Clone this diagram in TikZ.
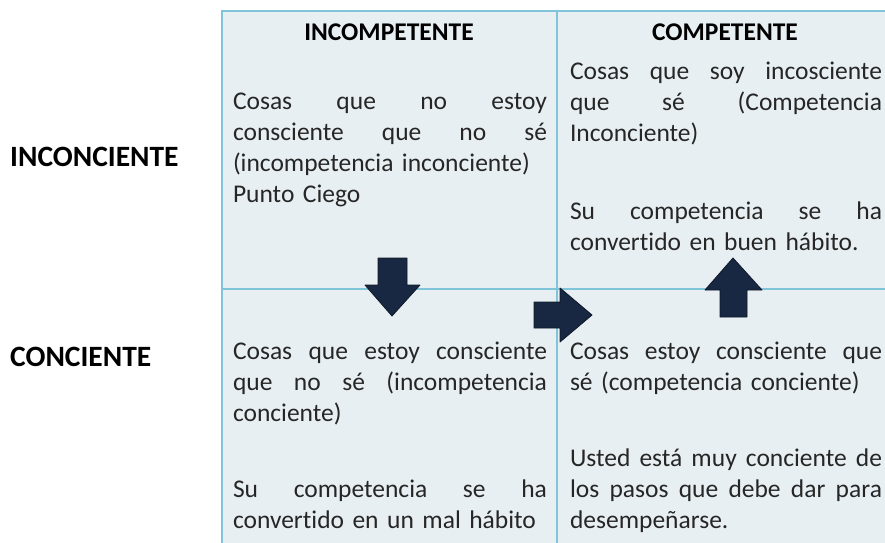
\documentclass[tikz,border=0pt]{standalone}
\usepackage{fontspec}
\setmainfont{Carlito}[Ligatures=NoCommon]
\definecolor{cellfill}{HTML}{E8EFF3}
\definecolor{gridc}{HTML}{7FC4D9}
\definecolor{arrowc}{HTML}{182842}
\newcommand{\jla}[1]{\leavevmode\hbox to 314pt{\spaceskip=0.25em plus 1fil\relax #1}}
\newcommand{\jlb}[1]{\leavevmode\hbox to 312pt{\spaceskip=0.25em plus 1fil\relax #1}}
\begin{document}
\begin{tikzpicture}[x=1pt,y=-1pt,
  body/.style={anchor=base west, inner sep=0pt, outer sep=0pt, align=left, text width=#1, font=\fontsize{25.5}{31}\selectfont, text=black!85},
  body/.default=314pt,
  head/.style={anchor=base, inner sep=0pt, font=\fontsize{25.5}{31}\selectfont\bfseries},
  rowlab/.style={anchor=base west, inner sep=0pt, font=\fontsize{29.5}{35}\selectfont\bfseries},
  grid/.style={draw=gridc, line width=1.5pt},
  bigarrow/.style={fill=arrowc, draw=arrowc!60!black, line width=0.8pt, line join=round}]
\useasboundingbox (0,0) rectangle (885,542);
% table background and grid
\fill[cellfill] (222,11) rectangle (886,543);
\draw[grid, line width=2pt] (222,543) -- (222,11) -- (886,11);
\draw[grid] (557,11) -- (557,543);
\draw[grid] (222,289) -- (886,289);
% headers
\node[head] (hinc) at (389,40) {INCOMPETENTE};
\node[head] (hcom) at (725,40) {COMPETENTE};
% row labels
\node[rowlab] (rinc) at (10,166) {INCONCIENTE};
\node[rowlab] (rcon) at (10,366) {CONCIENTE};
% cells
\node[body] (tl) at (233,109) {\jla{Cosas que no estoy}\\
\jla{consciente que no sé}\\
(incompetencia inconciente)\\
Punto Ciego};
\node[body=312pt] (tr1) at (570,79) {\jlb{Cosas que soy incosciente}\\
\jlb{que sé (Competencia}\\
Inconciente)};
\node[body=312pt] (tr2) at (570,219) {\jlb{Su competencia se ha}\\
convertido en buen hábito.};
\node[body] (bl1) at (233,359) {\jla{Cosas que estoy consciente}\\
\jla{que no sé (incompetencia}\\
conciente)};
\node[body] (bl2) at (233,497) {\jla{Su competencia se ha}\\
convertido en un mal hábito};
\node[body=312pt] (br1) at (570,359) {\jlb{Cosas estoy consciente que}\\
sé (competencia conciente)};
\node[body=312pt] (br2) at (570,466) {\jlb{Usted está muy conciente de}\\
\jlb{los pasos que debe dar para}\\
desempeñarse.};
% arrows
\draw[bigarrow] (378,258) -- (407,258) -- (407,285) -- (420,285) -- (392,316) -- (365,285) -- (378,285) -- cycle;
\draw[bigarrow] (534,302) -- (560,302) -- (560,288) -- (592,315) -- (560,342) -- (560,328) -- (534,328) -- cycle;
\draw[bigarrow] (720,317) -- (747,317) -- (747,290) -- (762,290) -- (733,258) -- (705,290) -- (720,290) -- cycle;
\end{tikzpicture}
\end{document}
